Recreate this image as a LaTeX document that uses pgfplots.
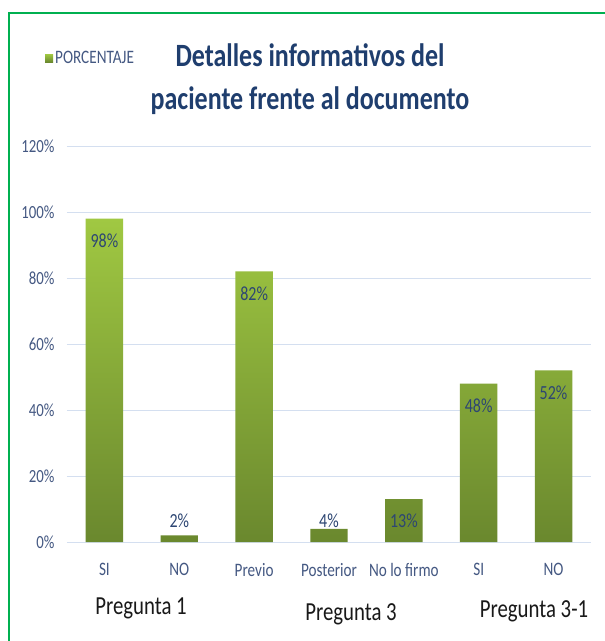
\documentclass[border=0pt]{standalone}
\usepackage{fontspec}
\setmainfont{Carlito}[FakeStretch=0.8]
\usepackage{pgfplots}
\pgfplotsset{compat=1.18}
\definecolor{barTop}{RGB}{160,200,66}
\definecolor{barBot}{RGB}{106,136,46}
\definecolor{titleBlue}{RGB}{31,62,110}
\definecolor{tickBlue}{RGB}{68,88,130}
\definecolor{labelBlue}{RGB}{45,70,115}
\definecolor{gridC}{RGB}{212,223,240}
\definecolor{frameG}{RGB}{0,176,80}
\begin{document}
\begin{tikzpicture}
\fill[white] (0,0) rectangle (605pt,641pt);
\draw[frameG, line width=2pt] (9pt,628pt) rectangle (640pt,-40pt);
\begin{axis}[
  at={(67pt,99pt)}, anchor=south west,
  scale only axis, width=524pt, height=396pt,
  xmin=-0.5, xmax=6.5, ymin=0, ymax=120,
  ytick={0,20,...,120},
  yticklabels={0\%,20\%,40\%,60\%,80\%,100\%,120\%},
  xtick={0,...,6},
  xticklabels={SI,NO,Previo,Posterior,No lo firmo,SI,NO},
  axis line style={draw=none},
  major tick style={draw=none},
  ymajorgrids,
  major grid style={gridC, line width=1pt},
  yticklabel style={font=\fontsize{18.5}{20}\selectfont, text=tickBlue, xshift=-9pt},
  xticklabel style={font=\fontsize{19}{21}\selectfont, text=tickBlue, yshift=-18pt},
  legend style={at={(-0.042,1.222)}, anchor=west, draw=none, fill=none,
    font=\fontsize{19}{21}\selectfont, text=tickBlue, inner sep=0pt},
  legend image code/.code={\fill[barTop!80!barBot] (0pt,-4pt) rectangle (8pt,4pt);},
]
\addplot[ybar, bar width=0.5, draw=none, top color=barTop, bottom color=barBot]
  coordinates {(0,98) (1,2) (2,82) (3,4) (4,13) (5,48) (6,52)};
\addlegendentry{PORCENTAJE}
\addplot[forget plot, draw=none, mark=none, nodes near coords,
  point meta=explicit symbolic, nodes near coords align={center},
  every node near coord/.append style={font=\fontsize{20}{22}\selectfont, text=labelBlue}]
  coordinates {(0,91.3) [98\%] (1,6.3) [2\%] (2,75.3) [82\%] (3,6.3) [4\%]
               (4,6.3) [13\%] (5,41.3) [48\%] (6,45.3) [52\%]};
\end{axis}
\node[align=center, text=titleBlue, font=\bfseries\fontsize{32.5}{43}\selectfont]
  at (310pt,562pt) {Detalles informativos del\\paciente frente al documento};
\node[font=\fontsize{26}{30}\selectfont, text=black!90] at (141pt,33pt) {Pregunta 1};
\node[font=\fontsize{26}{30}\selectfont, text=black!90] at (351pt,27pt) {Pregunta 3};
\node[font=\fontsize{26}{30}\selectfont, text=black!90] at (534pt,30pt) {Pregunta 3-1};
\pgfresetboundingbox
\useasboundingbox (0,0) rectangle (605pt,641pt);
\end{tikzpicture}
\end{document}
